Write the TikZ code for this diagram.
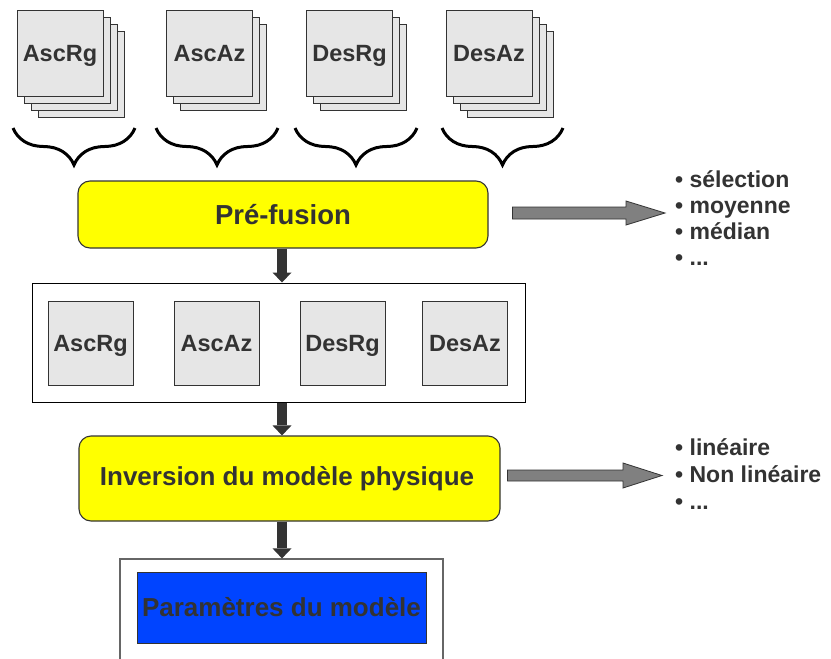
\documentclass[tikz,border=0pt]{standalone}
\usepackage{fontspec}
\setmainfont{Liberation Sans}
\usetikzlibrary{decorations.pathreplacing,arrows.meta,calc}
\definecolor{txt}{HTML}{333333}
\definecolor{sheet}{HTML}{E6E6E6}
\definecolor{ylw}{HTML}{FFFF00}
\definecolor{blu}{HTML}{0044FF}
\definecolor{garr}{HTML}{808080}
\begin{document}
\begin{tikzpicture}[x=1pt,y=-1pt,
  sheetbox/.style={draw=txt, fill=sheet, line width=0.9pt, minimum width=86pt, minimum height=86pt, inner sep=0pt,
    text height=17pt, text depth=0pt,
    font=\fontsize{23.5}{28}\selectfont\bfseries, text=txt},
  ybox/.style={draw=txt, fill=ylw, line width=1.1pt, rounded corners=12pt, inner sep=0pt, text=txt},
  bracestyle/.style={draw=black, line width=3pt, decorate, decoration={brace, mirror, amplitude=37pt}},
  darrow/.style={draw=txt, line width=10pt, -{Triangle[width=19pt,length=10pt,line width=0pt]}},
  garrow/.style={draw=txt, fill=garr, line width=0.8pt},
  item/.style={anchor=base west, inner sep=0pt, text=txt, font=\fontsize{23}{26}\selectfont\bfseries},
]
\clip (0,0) rectangle (831,659);
\fill[white] (0,0) rectangle (831,659);

% stacks
\foreach \k in {3,2,1} \node[sheetbox] at (60+7*\k,53+7*\k) {};
\node[sheetbox] (s1) at (60,53) {AscRg};
\foreach \k in {2,1} \node[sheetbox] at (209.5+7*\k,53+7*\k) {};
\node[sheetbox] (s2) at (209.5,53) {AscAz};
\foreach \k in {2,1} \node[sheetbox] at (349.5+7*\k,53+7*\k) {};
\node[sheetbox] (s3) at (349.5,53) {DesRg};
\foreach \k in {3,2,1} \node[sheetbox] at (489+7*\k,53+7*\k) {};
\node[sheetbox] (s4) at (489,53) {DesAz};

% braces
\draw[bracestyle] (13,128) -- (135,128);
\draw[bracestyle] (156,128) -- (278,128);
\draw[bracestyle] (295,128) -- (417,128);
\draw[bracestyle] (442,128) -- (563,128);

% pre-fusion
\node[ybox, minimum width=410pt, minimum height=67pt, font=\fontsize{27.5}{32}\selectfont\bfseries] (pre) at (283,214.5) {Pré-fusion};

% list 1
\node[item] (l1) at (675,187) {• sélection};
\node[item] (l2) at (675,213) {• moyenne};
\node[item] (l3) at (675,239) {• médian};
\node[item] (l4) at (675,265) {• ...};

\coordinate (g1s) at ($(pre.east)+(24,-1.5)$);
\coordinate (g1e) at ($(g1s -| l2.west)+(-10,0)$);
\draw[garrow] ($(g1s)+(0,-6)$) -- ($(g1e)+(-39,-6)$) -- ($(g1e)+(-39,-12)$) -- (g1e)
  -- ($(g1e)+(-39,12)$) -- ($(g1e)+(-39,6)$) -- ($(g1s)+(0,6)$) -- cycle;

% middle container
\node[draw=black, line width=1pt, minimum width=493pt, minimum height=119pt, inner sep=0pt] (mid) at (278.5,342.5) {};
\node[sheetbox, minimum width=85pt, minimum height=84pt] (m1) at (90.5,343) {AscRg};
\node[sheetbox, minimum width=85pt, minimum height=84pt] (m2) at (216.5,343) {AscAz};
\node[sheetbox, minimum width=85pt, minimum height=84pt] (m3) at (342.5,343) {DesRg};
\node[sheetbox, minimum width=85pt, minimum height=84pt] (m4) at (465,343) {DesAz};

\draw[darrow] ([xshift=-1pt]pre.south) -- ([xshift=-1pt]pre.south |- mid.north);

% inversion
\node[ybox, minimum width=421pt, minimum height=85pt, font=\fontsize{26}{30}\selectfont\bfseries] (inv) at (289.5,478.5) {\hspace*{-5pt}Inversion du modèle physique};
\draw[darrow] (mid.south -| 282,0) -- (inv.north -| 282,0);

% list 2
\node[item] (n1) at (675,455) {• linéaire};
\node[item] (n2) at (675,482) {• Non linéaire};
\node[item] (n3) at (675,509) {• ...};

\coordinate (g2s) at ($(inv.east)+(7,-3)$);
\coordinate (g2e) at ($(g2s -| n2.west)+(-13,0)$);
\draw[garrow] ($(g2s)+(0,-5.5)$) -- ($(g2e)+(-39,-5.5)$) -- ($(g2e)+(-39,-12.5)$) -- (g2e)
  -- ($(g2e)+(-39,12.5)$) -- ($(g2e)+(-39,5.5)$) -- ($(g2s)+(0,5.5)$) -- cycle;

% bottom
\node[draw=black!60, line width=1.2pt, minimum width=323pt, minimum height=122pt, inner sep=0pt] (outer) at (281.5,620) {};
\node[draw=txt, fill=blu, line width=1pt, minimum width=289pt, minimum height=71pt, inner sep=0pt, text=txt,
  font=\fontsize{26}{30}\selectfont\bfseries] (par) at (281.5,607.5) {Paramètres du modèle};
\draw[darrow] (inv.south -| 282,0) -- (outer.north -| 282,0);
\end{tikzpicture}
\end{document}
